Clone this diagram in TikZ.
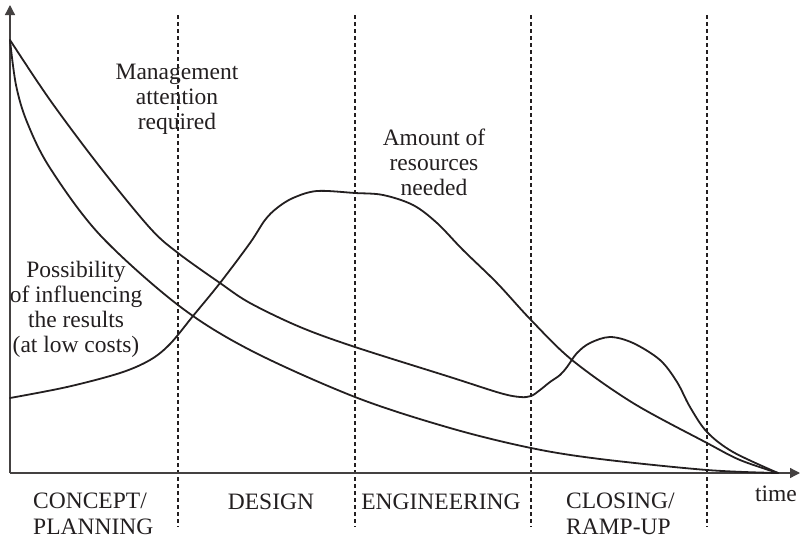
\documentclass[tikz,border=0pt]{standalone}
\usepackage{fontspec}
\setmainfont{Liberation Serif}
\usetikzlibrary{arrows.meta}
\definecolor{ink}{HTML}{231F20}
\begin{document}
\begin{tikzpicture}[x=1pt,y=-1pt,
  curve/.style={line width=1.8pt, draw=ink, line join=round, line cap=round},
  axis/.style={line width=1.3pt, draw=ink!85, -{Triangle[length=10pt,width=10pt]}},
  phase/.style={draw=ink, line width=1.3pt, dash pattern=on 4pt off 3pt},
  lbl/.style={font=\fontsize{23.5}{25}\selectfont, text=ink, inner sep=0pt, align=center},
  lbll/.style={lbl, font=\fontsize{23.5}{26}\selectfont, align=left}]
\useasboundingbox (0,0) rectangle (801,541);
% phase separators
\foreach \x in {178,355,531,707} \draw[phase] (\x,15) -- (\x,527);
% axes
\coordinate (O) at (10,473);
\coordinate (ytip) at (10,5);
\coordinate (xtip) at (800,473);
\draw[axis] (O) -- (ytip);
\draw[axis] (O) -- (xtip);
% possibility of influencing
\draw[curve] plot[smooth, tension=0.55] coordinates {(10,40) (16,85) (27,122) (50,168) (100,235) (178,305) (250,350) (355,397) (450,428) (531,448) (600,459) (707,470) (778,473)};
% management attention
\draw[curve] plot[smooth, tension=0.55] coordinates {(10,40) (50,100) (100,167) (150,228) (178,253) (220,283) (250,303) (300,327) (355,347) (450,377) (500,393) (520,397) (531,396) (540,390) (550,382) (560,375) (567,367) (577,353) (590,343) (610,337) (633,343) (660,360) (677,382) (690,407) (707,432) (733,452) (778,473)};
% resources
\draw[curve] plot[smooth, tension=0.55] coordinates {(10,398) (67,387) (120,373) (150,360) (170,344) (193,316) (220,283) (250,243) (265,220) (277,208) (293,198) (317,191) (355,193) (383,195) (413,205) (437,223) (463,250) (497,283) (531,320) (572,360) (633,403) (707,443) (740,460) (778,473)};
% labels
\node[lbl] (mgmt) at (177,99) {Management\\attention\\required};
\node[lbl] (res) at (434,162) {Amount of\\resources\\needed};
\node[lbl] (poss) at (76,309) {Possibility\\of influencing\\the results\\(at low costs)};
\node[lbll, anchor=west] (concept) at (33,514) {CONCEPT/\\PLANNING};
\node[lbl, anchor=base] (design) at (271,509) {DESIGN};
\node[lbl, anchor=base] (eng) at (441,509) {ENGINEERING};
\node[lbll, anchor=west] (closing) at (566,514) {CLOSING/\\RAMP-UP};
\node[lbl, anchor=base] (time) at (776,501) {time};
\end{tikzpicture}
\end{document}
